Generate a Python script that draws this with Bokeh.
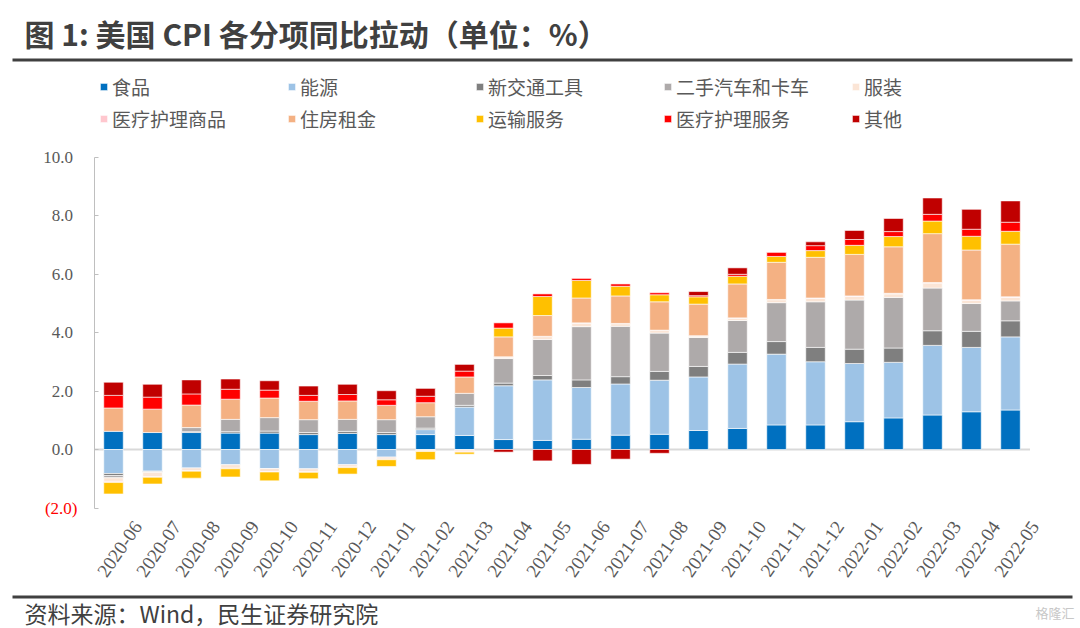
from bokeh.plotting import figure
from bokeh.models import (Range1d, FixedTicker, NumeralTickFormatter, CustomJSTickFormatter,
                          Label, Legend, LegendItem, BoxAnnotation, ColumnDataSource)
from bokeh.embed import file_html
from bokeh.resources import INLINE
import math

# ---------------- data ----------------
months = ["2020-06", "2020-07", "2020-08", "2020-09", "2020-10", "2020-11", "2020-12",
          "2021-01", "2021-02", "2021-03", "2021-04", "2021-05", "2021-06", "2021-07",
          "2021-08", "2021-09", "2021-10", "2021-11", "2021-12", "2022-01", "2022-02",
          "2022-03", "2022-04", "2022-05"]

food = [0.62, 0.58, 0.58, 0.56, 0.56, 0.51, 0.55, 0.51, 0.51, 0.48, 0.34, 0.31,
        0.35, 0.49, 0.52, 0.65, 0.72, 0.84, 0.84, 0.95, 1.08, 1.18, 1.29, 1.35]
energy = [-0.82, -0.74, -0.63, -0.52, -0.65, -0.66, -0.52, -0.26, 0.17, 0.97, 1.84, 2.07,
          1.77, 1.75, 1.85, 1.83, 2.20, 2.42, 2.16, 1.99, 1.90, 2.38, 2.20, 2.50]
new_vehicles = [-0.07, -0.02, 0.03, 0.05, 0.07, 0.07, 0.07, 0.07, 0.05, 0.06, 0.09, 0.15,
                0.26, 0.25, 0.30, 0.36, 0.40, 0.43, 0.49, 0.49, 0.49, 0.50, 0.55, 0.55]
used_cars = [-0.08, -0.02, 0.14, 0.42, 0.46, 0.44, 0.41, 0.44, 0.39, 0.41, 0.84, 1.23,
             1.82, 1.72, 1.31, 0.99, 1.09, 1.33, 1.56, 1.68, 1.73, 1.46, 0.95, 0.68]
apparel = [-0.12, -0.15, -0.10, -0.12, -0.10, -0.10, -0.08, -0.07, -0.05, -0.06, 0.05, 0.10,
           0.12, 0.09, 0.09, 0.05, 0.08, 0.10, 0.12, 0.12, 0.12, 0.17, 0.11, 0.12]
medical_goods = [-0.04, -0.02, -0.01, -0.02, -0.02, -0.02, -0.02, -0.02, -0.02, -0.03, 0.01, 0.01,
                 0.01, 0.01, 0.01, 0.01, 0.01, 0.01, 0.01, 0.02, 0.02, 0.02, 0.02, 0.02]
shelter = [0.80, 0.80, 0.77, 0.69, 0.67, 0.63, 0.63, 0.49, 0.48, 0.56, 0.68, 0.71,
           0.85, 0.94, 0.97, 1.08, 1.16, 1.27, 1.39, 1.42, 1.59, 1.67, 1.70, 1.80]
transport_services = [-0.39, -0.23, -0.24, -0.28, -0.30, -0.22, -0.22, -0.23, -0.28, -0.07, 0.30, 0.65,
                      0.60, 0.33, 0.24, 0.25, 0.26, 0.20, 0.23, 0.31, 0.35, 0.43, 0.47, 0.44]
medical_services = [0.43, 0.41, 0.38, 0.34, 0.27, 0.20, 0.22, 0.19, 0.22, 0.20, 0.18, 0.09,
                    0.07, 0.08, 0.07, 0.04, 0.07, 0.15, 0.17, 0.20, 0.17, 0.23, 0.24, 0.31]
other = [0.45, 0.44, 0.48, 0.35, 0.32, 0.32, 0.35, 0.31, 0.27, 0.23, -0.09, -0.39,
         -0.51, -0.33, -0.13, 0.14, 0.22, 0.00, 0.13, 0.31, 0.45, 0.56, 0.68, 0.73]

series_names = ["食品", "能源", "新交通工具", "二手汽车和卡车", "服装",
                "医疗护理商品", "住房租金", "运输服务", "医疗护理服务", "其他"]
series_values = [food, energy, new_vehicles, used_cars, apparel,
                 medical_goods, shelter, transport_services, medical_services, other]
y_ticks = [-2, 0, 2, 4, 6, 8, 10]
y_min, y_max = -2, 10

# ---------------- styles / layout ----------------
colors = ["#0070C0", "#9DC3E6", "#7F7F7F", "#AEAAAA", "#FBE5D6",
          "#FFC7CE", "#F4B183", "#FFC000", "#FF0000", "#C00000"]

W, H = 1080, 628
first_bar_px = 113.0      # canvas x of first bar centre
slot_px = 39.0            # px per category
zero_px = 449.0           # canvas y of value 0
unit_px = 29.25           # px per 1.0

x_start = -first_bar_px / slot_px
x_end = (W - first_bar_px) / slot_px
y_top = zero_px / unit_px
y_bot = -(H - zero_px) / unit_px

p = figure(width=W, height=H, x_range=Range1d(x_start, x_end), y_range=Range1d(y_bot, y_top),
           output_backend="svg", toolbar_location=None,
           min_border=0, min_border_left=0, min_border_right=0,
           min_border_top=0, min_border_bottom=0, outline_line_color=None,
           background_fill_color="white", border_fill_color="white")
p.xgrid.visible = False
p.ygrid.visible = False

xs = list(range(len(months)))

# zero line (category axis line at 0)
p.segment(x0=[-0.5], x1=[len(months) - 0.5], y0=[0], y1=[0],
          line_color="#d9d9d9", line_width=2)

pos = [0.0] * len(months)
neg = [0.0] * len(months)
items = []
for name, vals, color in zip(series_names, series_values, colors):
    bottoms, tops = [], []
    for i, v in enumerate(vals):
        if v >= 0:
            bottoms.append(pos[i]); tops.append(pos[i] + v); pos[i] += v
        else:
            bottoms.append(neg[i]); tops.append(neg[i] + v); neg[i] += v
    src = ColumnDataSource(dict(x=xs, bottom=bottoms, top=tops))
    r = p.vbar(x="x", bottom="bottom", top="top", width=0.5, source=src,
               fill_color=color, line_color="white", line_width=0.6)
    items.append(LegendItem(label=name, renderers=[r]))

legend = Legend(items=items, orientation="horizontal", ncols=5, location=(99, 496),
                border_line_color=None, background_fill_alpha=0, padding=0, margin=0,
                spacing=5, glyph_width=9, glyph_height=9, label_standoff=4,
                label_width=170, label_height=20,
                label_text_font="Noto Sans CJK SC", label_text_font_size="19px",
                label_text_color="#595959")
p.add_layout(legend)

# ---------------- axes ----------------
yax = p.yaxis[0]
yax.fixed_location = -0.5
yax.ticker = FixedTicker(ticks=y_ticks)
yax.formatter = NumeralTickFormatter(format="0.0")
yax.major_label_overrides = {-2: ""}
yax.bounds = (y_min, y_max)
yax.axis_line_color = "#bfbfbf"
yax.major_tick_line_color = "#bfbfbf"
yax.major_tick_in = 4
yax.major_tick_out = 0
yax.minor_tick_line_color = None
yax.major_label_text_font = "Liberation Serif"
yax.major_label_text_font_size = "17px"
yax.major_label_text_color = "#595959"
yax.major_label_standoff = 21

label_shift = 0.62
xax = p.xaxis[0]
xax.fixed_location = y_min
xax.ticker = FixedTicker(ticks=[i + label_shift for i in xs])
xax.formatter = CustomJSTickFormatter(args=dict(labels=months, shift=label_shift),
                                      code="const k = Math.round(tick - shift); return labels[k] || '';")
xax.axis_line_color = None
xax.major_tick_line_color = None
xax.minor_tick_line_color = None
xax.major_label_orientation = math.radians(55)
xax.major_label_text_font = "Liberation Serif"
xax.major_label_text_font_size = "19px"
xax.major_label_text_color = "#595959"
xax.major_label_standoff = 9

# negative tick label shown in red, like the source
p.add_layout(Label(x=77, y=y_min, x_units="canvas", y_units="data", text="(2.0)",
                   text_align="right", text_baseline="middle", text_color="#FF0000",
                   text_font="Liberation Serif", text_font_size="17px"))

# ---------------- title, separators, footer ----------------
p.add_layout(Label(x=24, y=32, x_units="canvas", y_units="canvas",
                   text="图 1: 美国 CPI 各分项同比拉动（单位：%）",
                   text_align="left", text_baseline="middle", text_color="#404040",
                   text_font="Noto Sans CJK SC", text_font_size="30px", text_font_style="bold"))
p.add_layout(BoxAnnotation(left=12, right=1072, top=58, bottom=61,
                           left_units="canvas", right_units="canvas",
                           top_units="canvas", bottom_units="canvas",
                           fill_color="#404040", fill_alpha=1, line_color=None))
p.add_layout(BoxAnnotation(left=12, right=1072, top=595, bottom=598,
                           left_units="canvas", right_units="canvas",
                           top_units="canvas", bottom_units="canvas",
                           fill_color="#404040", fill_alpha=1, line_color=None))
p.add_layout(Label(x=24, y=612, x_units="canvas", y_units="canvas",
                   text="资料来源：Wind，民生证券研究院",
                   text_align="left", text_baseline="middle", text_color="#404040",
                   text_font="Noto Sans CJK SC", text_font_size="23px"))
p.add_layout(Label(x=1074, y=612, x_units="canvas", y_units="canvas",
                   text="格隆汇", text_align="right", text_baseline="middle",
                   text_color="#c8c8c8", text_font="Noto Sans CJK SC", text_font_size="13px"))

open("out.html", "w").write(file_html(p, INLINE))
